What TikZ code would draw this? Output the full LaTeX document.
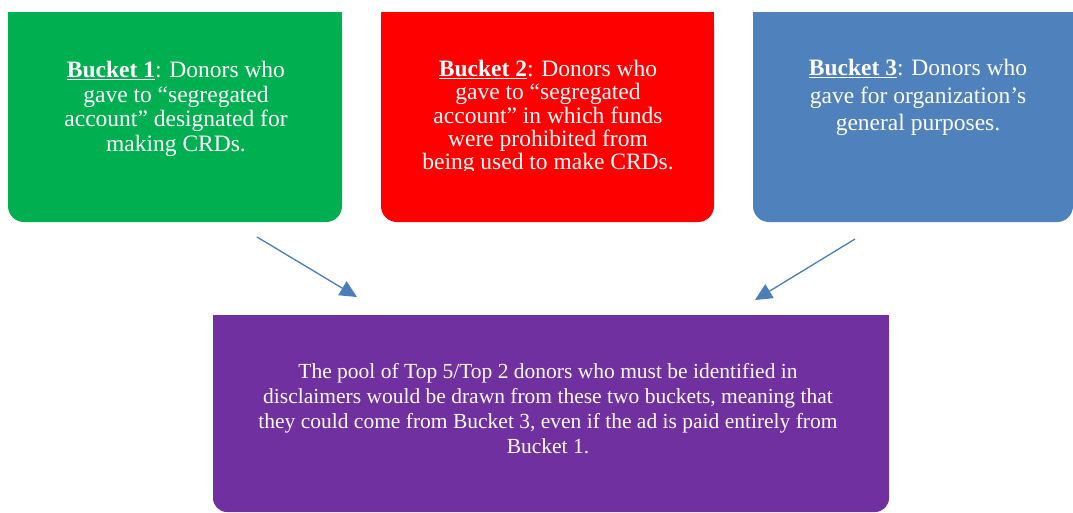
\documentclass[tikz,border=0pt]{standalone}
\usepackage{fontspec}
\setmainfont{Liberation Serif}
\usetikzlibrary{arrows.meta}
\definecolor{cgreen}{HTML}{00B050}
\definecolor{cred}{HTML}{FF0000}
\definecolor{cblue}{HTML}{4F81BD}
\definecolor{cpurple}{HTML}{7030A0}
\definecolor{carrow}{HTML}{4A7EBB}
\newcommand\mytightlines{\setlength{\lineskiplimit}{-30pt}\setlength{\lineskip}{0pt}}
\tikzset{
  boxtext/.style={text=white, align=center, anchor=north, inner sep=0pt,
    font=\fontsize{23.5}{#1}\selectfont\mytightlines},
  pooltext/.style={text=white, align=center, anchor=north, inner sep=0pt,
    font=\fontsize{21.5}{25}\selectfont\mytightlines},
  conn/.style={draw=carrow, line width=1.3pt, -{Triangle[length=17pt,width=16pt]}}
}
\begin{document}
\begin{tikzpicture}[x=1pt,y=-1pt]
\useasboundingbox (0,0) rectangle (1073,512);
% green box
\fill[cgreen, rounded corners=16] (8,12) rectangle (342,222);
\fill[cgreen] (8,12) rectangle (342,60);
\node[inner sep=0pt, minimum width=334pt, minimum height=210pt] (b1) at (175,117) {};
\node[boxtext=24.6] (t1) at (176,61) {\underline{\textbf{Bucket 1}}: Donors who\\gave to “segregated\\account” designated for\\making CRDs.};
% red box
\fill[cred, rounded corners=16] (381,12) rectangle (714,222);
\fill[cred] (381,12) rectangle (714,60);
\node[inner sep=0pt, minimum width=333pt, minimum height=210pt] (b2) at (547.5,117) {};
\begin{scope}
\clip (381,12) rectangle (714,170);
\node[boxtext=23.3] (t2) at (548,60) {\underline{\textbf{Bucket 2}}: Donors who\\gave to “segregated\\account” in which funds\\were prohibited from\\being used to make CRDs.};
\end{scope}
% blue box
\fill[cblue, rounded corners=16] (753,12) rectangle (1073,222);
\fill[cblue] (753,12) rectangle (1073,60);
\node[inner sep=0pt, minimum width=320pt, minimum height=210pt] (b3) at (913,117) {};
\node[boxtext=27.5] (t3) at (918,59) {\underline{\textbf{Bucket 3}}: Donors who\\gave for organization’s\\general purposes.};
% purple box
\fill[cpurple, rounded corners=14] (213,315) rectangle (889,512);
\fill[cpurple] (213,315) rectangle (889,380);
\node[inner sep=0pt, minimum width=676pt, minimum height=197pt] (pool) at (551,413.5) {};
\node[pooltext] (tp) at (548,363) {The pool of Top 5/Top 2 donors who must be identified in\\disclaimers would be drawn from these two buckets, meaning that\\they could come from Bucket 3, even if the ad is paid entirely from\\Bucket 1.};
% arrows
\coordinate (a1s) at (257,237);
\coordinate (a1e) at (357,297);
\coordinate (a3s) at (855,239);
\coordinate (a3e) at (755,300);
\draw[conn] (a1s) -- (a1e);
\draw[conn] (a3s) -- (a3e);
\end{tikzpicture}
\end{document}
